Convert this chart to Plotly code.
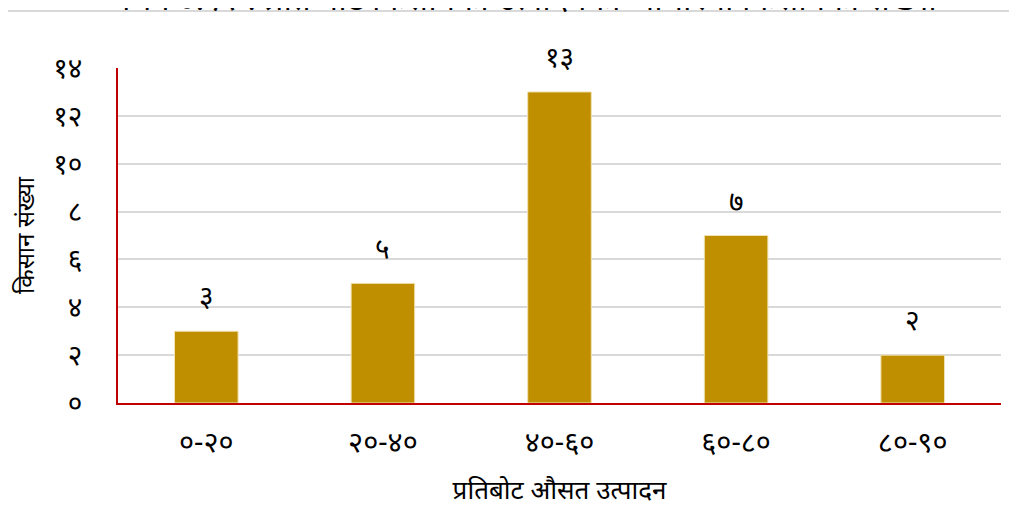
import plotly.graph_objects as go

# data
categories = ["०-२०", "२०-४०", "४०-६०", "६०-८०", "८०-९०"]
farmers = [3, 5, 13, 7, 2]
value_labels = ["३", "५", "१३", "७", "२"]
y_tick_vals = [0, 2, 4, 6, 8, 10, 12, 14]
y_tick_text = ["०", "२", "४", "६", "८", "१०", "१२", "१४"]

title_text = "चित्र ७.१२ : प्रति बोट किसानको उत्पादनको आधारमा किसानको संख्या"

FONT = "Noto Sans, DejaVu Sans, sans-serif"

fig = go.Figure()
fig.add_trace(go.Bar(
    x=categories,
    y=farmers,
    marker_color="#bf8f00",
    marker_line_color="#f2e3b3",
    marker_line_width=1,
    showlegend=False,
))

# value labels a bit above each bar
for cat, val, lab in zip(categories, farmers, value_labels):
    fig.add_annotation(x=cat, y=val, text=lab, showarrow=False,
                       yanchor="bottom", yshift=15,
                       font=dict(size=28, color="#000000", family=FONT))

# outer chart frame (partially cropped, like the original)
fig.add_shape(type="rect", xref="paper", yref="paper",
              x0=-0.126, x1=1.2, y0=-0.5, y1=1.17,
              line=dict(color="#d9d9d9", width=2), layer="below")

# title, mostly cut off at the top like in the original
fig.add_annotation(xref="paper", yref="paper", x=0.467, y=1.165,
                   yanchor="bottom", yshift=-9, text=title_text,
                   showarrow=False,
                   font=dict(size=33, color="#000000", family=FONT))

fig.update_layout(
    width=1017, height=516,
    margin=dict(l=110, r=24, t=60, b=121, autoexpand=False),
    paper_bgcolor="white", plot_bgcolor="white",
    bargap=0.64,
    font=dict(family=FONT, color="#000000"),
)
fig.update_xaxes(
    showline=True, linecolor="#c00000", linewidth=2,
    ticks="", ticklabelstandoff=12,
    tickfont=dict(size=29, color="#000000"),
    title=dict(text="प्रतिबोट औसत उत्पादन", standoff=22,
               font=dict(size=26, color="#000000")),
)
fig.update_yaxes(
    range=[0, 14], tickvals=y_tick_vals, ticktext=y_tick_text,
    showline=True, linecolor="#c00000", linewidth=2,
    showgrid=True, gridcolor="#d9d9d9", gridwidth=1.5,
    zeroline=False, ticks="", ticklabelstandoff=28,
    tickfont=dict(size=28, color="#000000"),
    title=dict(text="किसान संख्या", standoff=12,
               font=dict(size=24, color="#000000")),
)

fig.write_html("out.html")
